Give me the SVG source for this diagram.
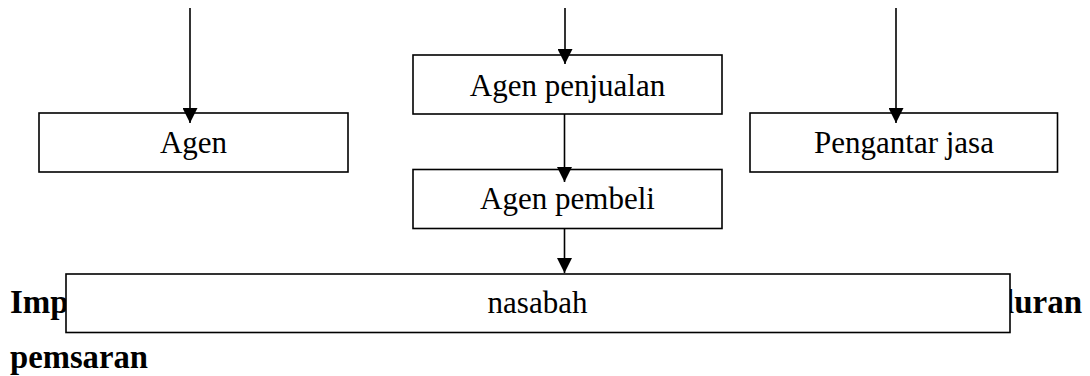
<svg xmlns="http://www.w3.org/2000/svg" width="1090" height="376" viewBox="0 0 1090 376">
  <style>
    .box { fill: #ffffff; stroke: #000000; stroke-width: 1.6; }
    .label { font-family: "Liberation Serif", "Times New Roman", serif; font-size: 31px; fill: #000000; text-anchor: middle; }
    .body { font-family: "Liberation Serif", "Times New Roman", serif; font-size: 33px; font-weight: bold; fill: #000000; }
    .edge { stroke: #000000; stroke-width: 1.6; fill: none; marker-end: url(#arrow); }
  </style>
  <defs>
    <marker id="arrow" markerUnits="userSpaceOnUse" markerWidth="15" markerHeight="15" refX="15" refY="7.5" orient="auto">
      <path d="M0,0 L15,7.5 L0,15 Z" fill="#000000"/>
    </marker>
  </defs>

  <rect width="1090" height="376" fill="#ffffff"/>

  <!-- running paragraph text partly hidden behind the customer box -->
  <g id="paragraph">
    <text class="body" x="10" y="313">Imp</text>
    <text class="body" x="1082" y="313" text-anchor="end">luran</text>
    <text class="body" x="10" y="368" textLength="138" lengthAdjust="spacingAndGlyphs">pemsaran</text>
  </g>

  <g id="node-agen">
    <rect class="box" x="39" y="113" width="309" height="59"/>
    <text class="label" x="193.5" y="153">Agen</text>
  </g>

  <g id="node-agen-penjualan">
    <rect class="box" x="413" y="55" width="309" height="59"/>
    <text class="label" x="567.5" y="96">Agen penjualan</text>
  </g>

  <g id="node-agen-pembeli">
    <rect class="box" x="413" y="169.5" width="309" height="59"/>
    <text class="label" x="567.5" y="209">Agen pembeli</text>
  </g>

  <g id="node-pengantar-jasa">
    <rect class="box" x="750" y="113" width="307.5" height="59"/>
    <text class="label" x="904" y="153">Pengantar jasa</text>
  </g>

  <g id="node-nasabah">
    <rect class="box" x="66" y="274" width="944" height="58.5"/>
    <text class="label" x="537.5" y="313">nasabah</text>
  </g>

  <g id="connectors">
    <line class="edge" x1="190" y1="8" x2="190" y2="123"/>
    <line class="edge" x1="565" y1="8" x2="565" y2="64"/>
    <line class="edge" x1="896" y1="8" x2="896" y2="123"/>
    <line class="edge" x1="564.5" y1="114" x2="564.5" y2="182"/>
    <line class="edge" x1="564.5" y1="228.5" x2="564.5" y2="273"/>
  </g>
</svg>
